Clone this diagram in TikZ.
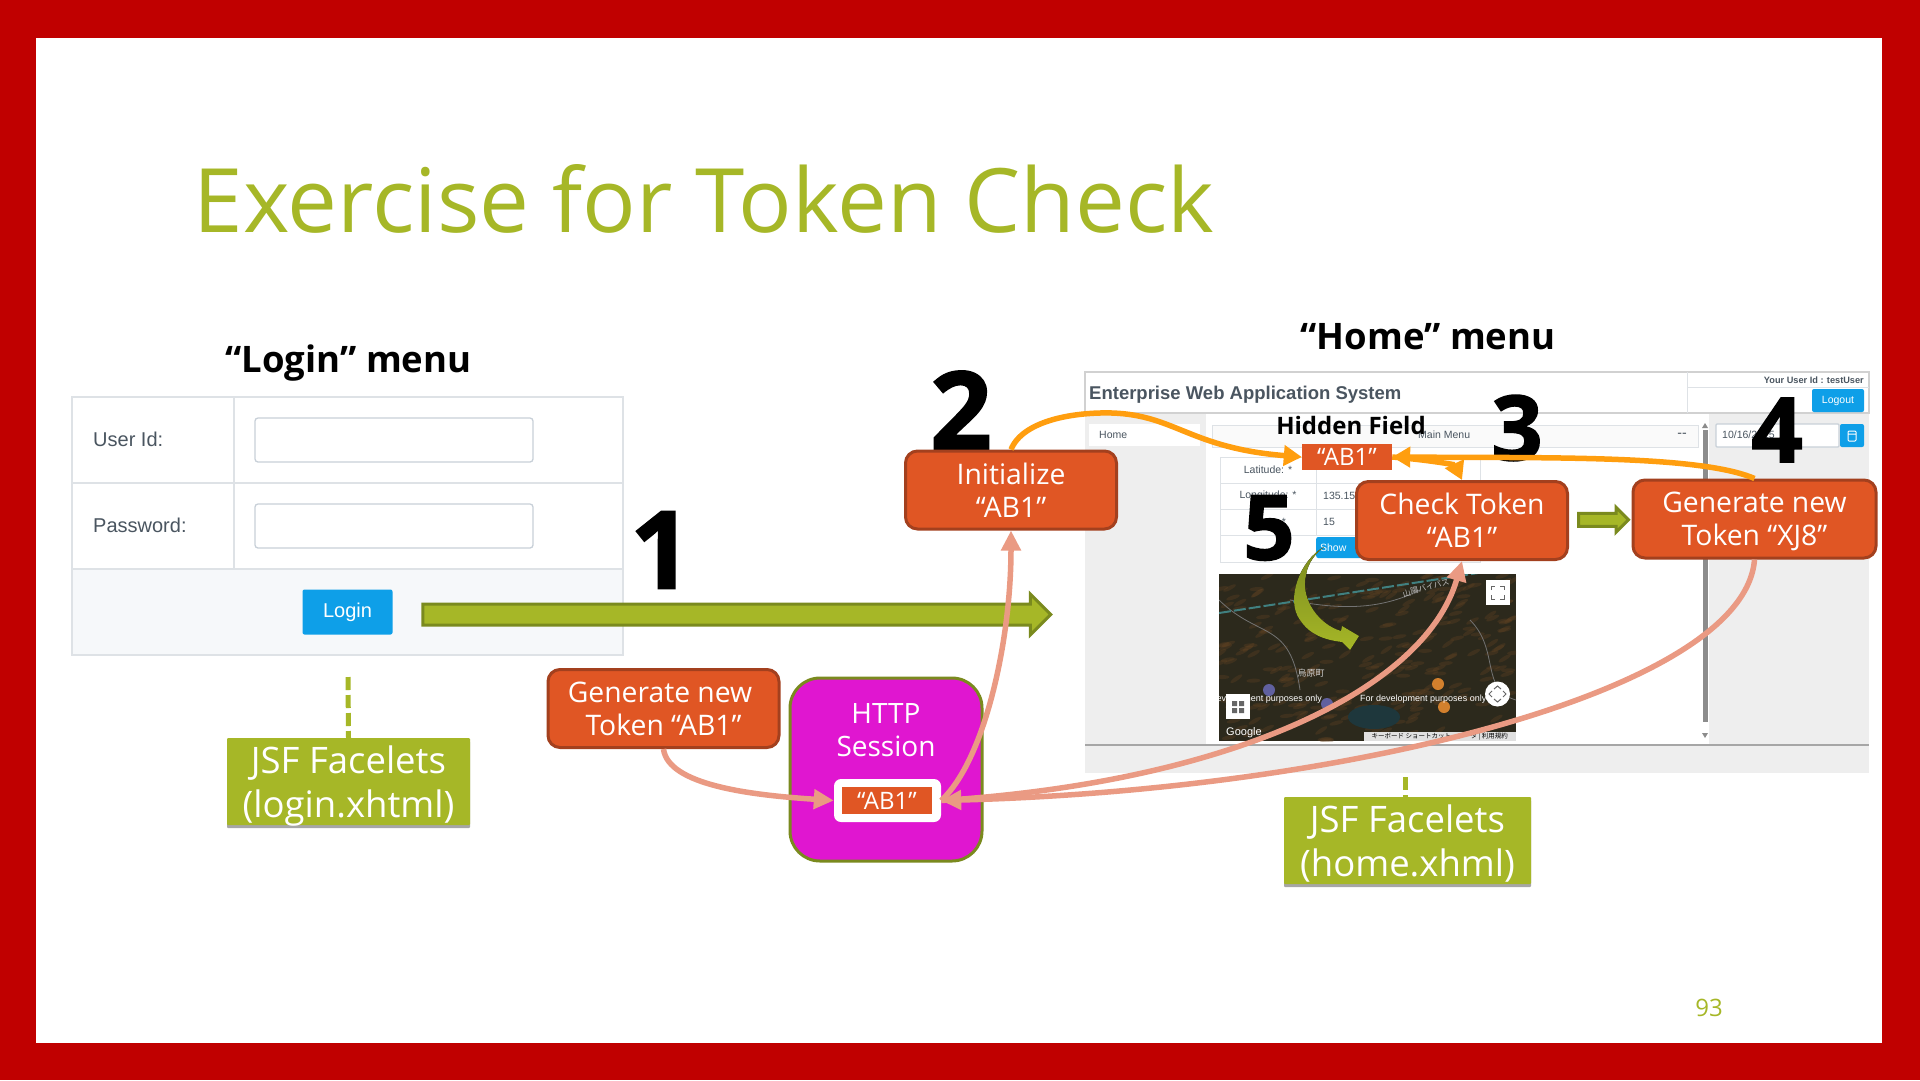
\documentclass[tikz,border=0pt]{standalone}
\usepackage{fontspec}
\setmainfont{Open Sans}
\newfontfamily\uifont{Liberation Sans}
\newfontfamily\cjkfont{Noto Sans CJK JP}
\newfontfamily\stepfont[BoldFeatures={FakeBold=1.6}]{Open Sans}
\usepackage{xcolor}
\usepackage{tikz}
\usetikzlibrary{arrows.meta, positioning, shadows, shapes.arrows, calc}
\definecolor{framered}{RGB}{192,0,0}
\definecolor{olive}{RGB}{166,183,39}
\definecolor{olivedark}{RGB}{122,138,30}
\definecolor{tokenfill}{RGB}{224,86,36}
\definecolor{tokenline}{RGB}{163,64,30}
\definecolor{sessionfill}{RGB}{224,22,208}
\definecolor{salmon}{RGB}{234,154,131}
\definecolor{amber}{RGB}{255,158,15}
\definecolor{uiblue}{RGB}{14,159,232}
\definecolor{uigray}{RGB}{238,238,238}
\definecolor{uiline}{RGB}{222,226,230}
\definecolor{uitext}{RGB}{74,85,96}
\definecolor{uifoot}{RGB}{246,248,250}
\definecolor{uiinput}{RGB}{200,208,216}
\definecolor{mapdark}{RGB}{44,41,28}
\definecolor{maplake}{RGB}{30,55,60}
\newcommand{\pxfont}[2]{\fontsize{#1}{#2}\selectfont}
\tikzset{
  tokenbox/.style={rectangle, rounded corners=12pt, draw=tokenline, line width=3pt, fill=tokenfill, text=white, minimum width=#1, minimum height=78pt, inner sep=0pt, font=\pxfont{28.3}{33}, align=center},
  smalltoken/.style={rectangle, fill=tokenfill, text=white, inner sep=0pt, font=\pxfont{24}{26}},
  jsfbox/.style={rectangle, rounded corners=1pt, fill=olive, text=white, minimum height=87pt, inner sep=0pt, font=\pxfont{36.5}{43.5}, align=center, drop shadow={shadow xshift=0pt, shadow yshift=-3pt, opacity=.35, fill=black}},
  heading/.style={font=\pxfont{36.5}{42}\bfseries, text=black},
  stepnum/.style={font=\stepfont\pxfont{#1}{120}\bfseries, text=black, inner sep=0pt},
  fatarrow/.style={single arrow, draw=olivedark, line width=3pt, fill=olive, inner xsep=0pt, inner ysep=#1, single arrow head extend=#1+1pt, single arrow head indent=0pt},
  flowarrow/.style={-{Triangle[length=20pt,width=19pt]}, line width=5.5pt, salmon},
  hiddenarrow/.style={-{Triangle[length=18pt,width=20pt]}, line width=5.5pt, amber},
  guide/.style={olive, line width=5pt, dash pattern=on 13pt off 5pt},
  uilabel/.style={font=\uifont\pxfont{#1}{#1}, text=uitext, inner sep=0pt},
  uilabel/.default=12,
  inputbox/.style={rectangle, rounded corners=3pt, draw=uiinput, line width=1.3pt, fill=white, inner sep=0pt},
  uibutton/.style={rectangle, rounded corners=2pt, fill=uiblue, text=white, inner sep=0pt},
  mapbutton/.style={rectangle, fill=white, inner sep=0pt, minimum width=24pt, minimum height=25pt},
}

\begin{document}
\begin{tikzpicture}[x=1pt, y=-1pt]
  \useasboundingbox (0,0) rectangle (1920,1080);
  \fill[framered] (0,0) rectangle (1920,1080);
  \fill[white] (36,38) rectangle (1882,1043);

  \node[anchor=base west, inner sep=0pt, text=olive, font=\pxfont{88.9}{100}] (title) at (193.5,232) {Exercise for Token Check};
  \node[text=olive, inner sep=0pt, font=\pxfont{24}{28}] (pagenum) at (1709,1008) {93};

  % login form
  \node[heading] (loginhead) at (348.5,363) {“Login” menu};
  \fill[uifoot] (72,569) rectangle (623,655);
  \draw[uiline, line width=1.2pt] (72,397) rectangle (623,655) (72,483) -- (623,483) (72,569) -- (623,569) (234,397) -- (234,569);
  \node[uilabel=20, anchor=west] (userlabel) at (93,439) {User Id:};
  \node[uilabel=20, anchor=west] (passlabel) at (93,525) {Password:};
  \node[inputbox, minimum width=278pt, minimum height=44pt] (userinput) at (394,440) {};
  \node[inputbox, minimum width=278pt, minimum height=44pt] (passinput) at (394,526) {};
  \node[uibutton, minimum width=90pt, minimum height=45pt, font=\uifont\pxfont{20}{20}] (loginbtn) at (347.5,612) {Login};

  \node[jsfbox, minimum width=243pt] (jsflogin) at (348.5,781.5) {JSF Facelets\\\raisebox{0pt}[\height][0pt]{(login.xhtml)}};
  \coordinate (loginform) at (348,677);
  \draw[guide] (loginform) -- (jsflogin.north);

  % home page
  \node[heading] (homehead) at (1428,337) {“Home” menu};
  \fill[uigray] (1085,413) rectangle (1869,773);
  \fill[white] (1206,413) rectangle (1709,745);
  \draw[black!35, line width=2pt] (1085,745) -- (1869,745);
  \draw[black!18, line width=2pt] (1085,372) rectangle (1869,413);
  \draw[uiline, line width=1pt] (1687,372) -- (1687,413) (1687,387) -- (1869,387);
  \node[anchor=west, inner sep=0pt, text=uitext, font=\uifont\bfseries\pxfont{18.5}{20}] (apptitle) at (1089,394.5) {Enterprise Web Application System};
  \node[anchor=east, inner sep=0pt, text=uitext, font=\uifont\bfseries\pxfont{9.2}{11}] (userid) at (1864,380) {Your User Id : testUser};
  \node[uibutton, minimum width=52pt, minimum height=23pt, font=\uifont\pxfont{10.5}{11}] (logoutbtn) at (1838,400.5) {Logout};
  \node[rectangle, fill=white, minimum width=111pt, minimum height=22pt, inner sep=0pt] (hometab) at (1144.5,435) {};
  \node[uilabel=10.5, anchor=west] (hometext) at (1099,435) {Home};
  \node[rectangle, draw=uiline, fill=black!2, minimum width=486pt, minimum height=22pt, inner sep=0pt] (menuhead) at (1455,436) {};
  \node[uilabel=10.5, anchor=west] (menutext) at (1418,435) {Main Menu};
  \node[uilabel=14] (menuminus) at (1682,435) {--};
  \node[inputbox, rounded corners=1pt, minimum width=123pt, minimum height=23pt] (dateinput) at (1777.5,435.5) {};
  \node[uilabel=10.5, anchor=west] (datetext) at (1722,435) {10/16/2025};
  \node[uibutton, minimum width=24pt, minimum height=23pt] (datebtn) at (1852,435.5) {};
  \draw[white, line width=1pt, rounded corners=1pt] (1848,431) rectangle (1856,441) (1848,434) -- (1856,434);
  \draw[black!45, line width=5pt] (1705,430) -- (1705,722);
  \fill[black!45] (1702,428) -- (1708,428) -- (1705,423) -- cycle (1702,733) -- (1708,733) -- (1705,738) -- cycle;

  \draw[uiline, line width=1pt] (1220,457) rectangle (1480,562) (1220,483) -- (1480,483) (1220,509) -- (1480,509) (1220,535) -- (1480,535) (1316,457) -- (1316,535);
  \node[uilabel=10.5] (latlabel) at (1268,470) {Latitude: *};
  \node[uilabel=10.5] (lonlabel) at (1268,496) {Longitude: *};
  \node[uilabel=10.5] (zoomstar) at (1284,522) {*};
  \node[uilabel=10.5, anchor=west] (lonvalue) at (1323,496) {135.155};
  \node[uilabel=10.5, anchor=west] (zoomvalue) at (1323,522) {15};
  \node[uibutton, anchor=west, minimum width=60pt, minimum height=21pt, font=\uifont\pxfont{10.5}{11}] (showbtn) at (1316,547.5) {\hspace*{-26pt}Show};

  % map
  \begin{scope}
    \clip (1219,574) rectangle (1516,741);
    \fill[mapdark] (1219,574) rectangle (1516,741);
    \pgfmathsetseed{93}
    \foreach \i in {1,...,260} {
      \pgfmathsetmacro{\px}{1219+297*rnd}
      \pgfmathsetmacro{\py}{574+167*rnd}
      \pgfmathsetmacro{\pr}{35*rnd}
      \fill[brown!55!black, opacity=.3, rotate around={\pr:(\px,\py)}] (\px,\py) ellipse (7 and 2);
    }
    \fill[maplake] (1374,717) ellipse (26 and 12);
    \draw[black!55, line width=.8pt] (1219,600) .. controls (1260,640) and (1290,620) .. (1300,690) (1290,600) .. controls (1340,610) and (1380,610) .. (1420,590) (1470,620) .. controls (1500,650) and (1480,690) .. (1516,700);
    \draw[teal!50!gray, line width=2pt, dash pattern=on 12pt off 3pt] (1219,613) -- (1478,573);
    \fill[brown!70!orange] (1438,684) circle (6) (1444,707) circle (6);
    \fill[blue!25!gray] (1269,690) circle (6) (1327,704) circle (6);
    \node[font=\cjkfont\pxfont{8}{10}, text=white!75!black, rotate=15, inner sep=0pt] (roadname) at (1426,588) {山陽バイパス};
    \node[font=\cjkfont\pxfont{9}{10}, text=white!80!black, inner sep=0pt] (placename) at (1311,673) {烏原町};
    \node[font=\uifont\pxfont{9}{10}, text=white, anchor=east, inner sep=0pt] (devnoteleft) at (1322,699) {For development purposes only};
    \node[font=\uifont\pxfont{9}{10}, text=white, anchor=west, inner sep=0pt] (devnoteright) at (1360,699) {For development purposes only};
    \node[font=\uifont\pxfont{11}{12}, text=white, anchor=west, inner sep=0pt] (googlemark) at (1226,733) {Google};
    \node[rectangle, fill=black!12, anchor=south east, minimum width=152pt, minimum height=9pt, inner sep=0pt, font=\cjkfont\pxfont{6.5}{7}] (mapcredit) at (1516,741) {キーボード ショートカット · データ | 利用規約};
  \end{scope}
  \node[mapbutton] (fullbtn) at (1497.5,592.5) {};
  \draw[black!60, line width=1pt] (1491,590) |- (1495,586) (1500,586) -| (1504,590) (1504,595) |- (1500,599) (1495,599) -| (1491,595);
  \node[mapbutton] (layerbtn) at (1238,706.5) {};
  \fill[black!60] (1232,701) rectangle (1237,706) (1239,701) rectangle (1244,706) (1232,708) rectangle (1237,713) (1239,708) rectangle (1244,713);
  \node[circle, fill=white, minimum size=25pt, inner sep=0pt] (compass) at (1497.5,694) {};
  \draw[black!60, line width=1pt] (1494,689) -- (1497.5,686) -- (1501,689) (1494,699) -- (1497.5,702) -- (1501,699) (1492,691) -- (1489,694) -- (1492,697) (1503,691) -- (1506,694) -- (1503,697);

  % curved olive arrow of step 5
  \fill[top color=olivedark, bottom color=olive, shading angle=0] (1324,547) .. controls (1300,560) and (1285,600) .. (1300,620) .. controls (1310,635) and (1325,640) .. (1342,642) -- (1350,650) -- (1359,636) -- (1342,626) -- (1341,631) .. controls (1320,625) and (1300,600) .. (1306,575) .. controls (1308,562) and (1316,553) .. (1324,547) -- cycle;

  % steps
  \node[stepnum=108] (stepone) at (661,550) {1};
  \node[stepnum=108] (steptwo) at (961,410) {2};
  \node[stepnum=90] (stepthree) at (1517,428) {3};
  \node[stepnum=90] (stepfour) at (1777,430) {4};
  \node[stepnum=90] (stepfive) at (1269,528) {5};

  \node[font=\pxfont{24}{28}\bfseries, inner sep=0pt] (hiddenhead) at (1351,425) {Hidden Field};
  \node[smalltoken, minimum width=90pt, minimum height=26pt] (hiddentoken) at (1347,457) {“AB1”};

  \node[tokenbox=231pt] (genab) at (663.5,708.5) {Generate new\hspace*{7pt}\\Token “AB1”};
  \node[tokenbox=211pt] (init) at (1011,490) {Initialize\\“AB1”};
  \node[tokenbox=211pt] (check) at (1462,520.5) {Check Token\\“AB1”};
  \node[tokenbox=243pt] (genxj) at (1754.5,519) {Generate new\\\raisebox{0pt}[\height][0pt]{Token “XJ8”}};

  \node[jsfbox, minimum width=247pt] (jsfhome) at (1407.5,840.5) {JSF Facelets\\\raisebox{0pt}[\height][0pt]{(home.xhml)}};
  \coordinate (homeform) at (1405,777);
  \draw[guide] (homeform) -- (jsfhome.north -| homeform);

  \coordinate (gostart) at (417.5,614.5);
  \coordinate (gotip) at (1045.5,614.5);
  \path (gostart) -- (gotip) node[midway, fatarrow=9pt, minimum height=628pt] (gobar) {};
  \path (check.east) -- (genxj.west) node[midway, fatarrow=5pt, minimum height=50pt] (checkbar) {};

  % session
  \node[rectangle, rounded corners=30pt, draw=olivedark, line width=3pt, fill=sessionfill, minimum width=192pt, minimum height=183pt, inner sep=0pt] (session) at (886,769.5) {};
  \node[text=white, align=center, inner sep=0pt, font=\pxfont{28}{33}] (sessionlabel) at (886,730.5) {HTTP\\Session};
  \node[rectangle, rounded corners=7pt, fill=white, minimum width=107pt, minimum height=43pt, inner sep=0pt] (holder) at (887.5,800.5) {};
  \node[smalltoken, minimum width=90pt, minimum height=27pt] (sessiontoken) at (887,800.5) {“AB1”};

  \draw[flowarrow] (genab.south) .. controls (668,785) and (750,795) .. (holder.west);
  \draw[flowarrow] (holder.east) .. controls (985,760) and (1011,640) .. (init.south);
  \draw[flowarrow] (holder.east) .. controls (1230,782) and (1425,690) .. (check.south);
  \draw[flowarrow] (genxj.south) .. controls (1745,690) and (1350,790) .. (holder.east);

  \draw[hiddenarrow] (init.north) .. controls (1023,420) and (1075,412) .. (1112,413) .. controls (1175,415) and (1190,448) .. (hiddentoken.west);
  \draw[hiddenarrow] (genxj.north) .. controls (1700,455) and (1550,458) .. (hiddentoken.east);
  \draw[hiddenarrow] (hiddentoken.east) .. controls (1430,460) and (1455,465) .. (check.north);
\end{tikzpicture}
\end{document}
